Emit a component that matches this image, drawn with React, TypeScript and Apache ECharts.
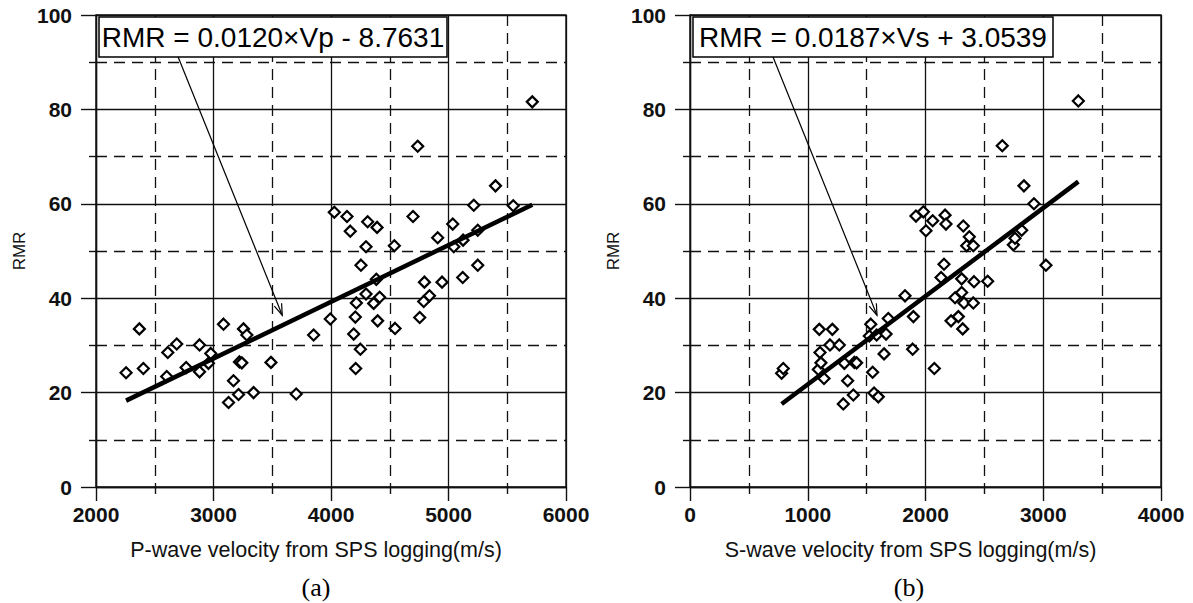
import React, { useEffect, useRef } from "react";
import * as echarts from "echarts";

// ---- data ----
const vpRmr: [number, number][] = [
  [2256, 24.2], [2403, 25.1], [2369, 33.5], [2602, 23.4], [2611, 28.5], [2687, 30.3],
  [2767, 25.3], [2881, 30.1], [2881, 24.4], [2977, 28.3], [2957, 26.2], [3085, 34.5],
  [3128, 17.9], [3170, 22.5], [3213, 19.6], [3221, 26.5], [3241, 26.3], [3255, 33.5],
  [3284, 32.2], [3341, 20.0], [3489, 26.4], [3704, 19.7], [3852, 32.2], [3994, 35.6],
  [4028, 58.2], [4136, 57.3], [4164, 54.2], [4193, 32.4], [4207, 36.0], [4210, 25.1],
  [4216, 39.0], [4250, 29.2], [4255, 47.0], [4298, 50.9], [4298, 40.9], [4312, 56.2],
  [4363, 38.9], [4386, 44.0], [4392, 55.0], [4397, 35.2], [4414, 40.2], [4539, 51.1],
  [4545, 33.6], [4698, 57.3], [4738, 72.2], [4755, 35.9], [4789, 39.3], [4795, 43.4],
  [4838, 40.5], [4908, 52.8], [4945, 43.4], [5036, 55.7], [5045, 50.9], [5121, 44.4],
  [5124, 52.3], [5215, 59.7], [5249, 54.4], [5249, 47.0], [5400, 63.8], [5551, 59.6],
  [5713, 81.6],
];

const vsRmr: [number, number][] = [
  [778, 24.1], [792, 25.1], [1090, 24.9], [1098, 33.4], [1104, 28.5], [1112, 26.3],
  [1138, 23.0], [1189, 30.1], [1209, 33.4], [1268, 30.1], [1302, 17.6], [1311, 26.2],
  [1339, 22.5], [1387, 19.5], [1396, 26.4], [1415, 26.3], [1523, 32.0], [1535, 34.5],
  [1551, 24.3], [1563, 19.9], [1585, 32.2], [1599, 19.1], [1648, 28.2], [1665, 32.4],
  [1684, 35.7], [1826, 40.5], [1891, 29.2], [1897, 36.1], [1919, 57.4], [1982, 58.3],
  [2004, 54.3], [2061, 56.4], [2075, 25.1], [2132, 44.4], [2157, 47.2], [2166, 57.6],
  [2174, 55.7], [2217, 35.2], [2251, 40.1], [2279, 36.1], [2307, 44.1], [2307, 41.2],
  [2316, 33.5], [2321, 55.3], [2327, 39.0], [2350, 51.1], [2372, 53.0], [2406, 51.1],
  [2406, 39.0], [2412, 43.5], [2528, 43.6], [2652, 72.3], [2746, 51.3], [2760, 52.7],
  [2817, 54.4], [2836, 63.8], [2921, 60.0], [3023, 47.0], [3298, 81.8],
];

// regression line end points (RMR = 0.0120×Vp - 8.7631 ; RMR = 0.0187×Vs + 3.0539)
const fitP: [number, number][] = [[2256, 18.3], [5713, 59.8]];
const fitS: [number, number][] = [[778, 17.6], [3298, 64.7]];

const eqP = "RMR = 0.0120×Vp - 8.7631";
const eqS = "RMR = 0.0187×Vs + 3.0539";
const xTitleP = "P-wave velocity from SPS logging(m/s)";
const xTitleS = "S-wave velocity from SPS logging(m/s)";
const yTitle = "RMR";
const panelLabels = ["(a)", "(b)"];

// annotation arrows (data coordinates: start at equation box, end at regression line)
const arrowP: [number, number][] = [[2699, 91.1], [3585, 36.4]];
const arrowS: [number, number][] = [[705, 91.1], [1588, 36.4]];

const xRangeP = [2000, 6000];
const xRangeS = [0, 4000];
const yRange = [0, 100];

const INK = "#111";
const FONT = "'Liberation Sans', Arial, sans-serif";
const DASH = [11, 7];

function makeXAxis(gridIndex: number, range: number[], name: string) {
  return {
    type: "value",
    gridIndex,
    min: range[0],
    max: range[1],
    interval: 1000,
    name,
    nameLocation: "middle",
    nameGap: 52,
    nameTextStyle: { fontFamily: FONT, fontSize: 21.5, color: INK, padding: [0, 30, 0, 0] },
    axisLine: { show: true, onZero: false, lineStyle: { color: INK, width: 1.4 } },
    axisTick: { show: true, length: 14, lineStyle: { color: INK, width: 1.4 } },
    minorTick: { show: true, splitNumber: 2, length: 7, lineStyle: { color: INK, width: 1.4 } },
    axisLabel: {
      fontFamily: FONT, fontWeight: "bold", fontSize: 21, color: INK, margin: 17,
      formatter: (v: number) => String(v),
    },
    splitLine: { show: true, lineStyle: { color: INK, width: 1.3 } },
    minorSplitLine: { show: true, lineStyle: { color: INK, width: 1.3, type: DASH } },
  };
}

function makeYAxis(gridIndex: number) {
  return {
    type: "value",
    gridIndex,
    min: yRange[0],
    max: yRange[1],
    interval: 20,
    name: yTitle,
    nameLocation: "middle",
    nameGap: 68,
    nameTextStyle: { fontFamily: FONT, fontSize: 17, color: INK },
    axisLine: { show: true, onZero: false, lineStyle: { color: INK, width: 1.4 } },
    axisTick: { show: true, length: 15, lineStyle: { color: INK, width: 1.4 } },
    minorTick: { show: true, splitNumber: 2, length: 7, lineStyle: { color: INK, width: 1.4 } },
    axisLabel: {
      fontFamily: FONT, fontWeight: "bold", fontSize: 21, color: INK, margin: 24,
      formatter: (v: number) => String(v),
    },
    splitLine: { show: true, lineStyle: { color: INK, width: 1.3 } },
    minorSplitLine: { show: true, lineStyle: { color: INK, width: 1.3, type: DASH } },
  };
}

function scatter(idx: number, data: [number, number][]) {
  return {
    type: "scatter",
    xAxisIndex: idx,
    yAxisIndex: idx,
    data,
    symbol: "diamond",
    symbolSize: 11,
    itemStyle: { color: "#fff", borderColor: "#000", borderWidth: 2.2, opacity: 1 },
    z: 3,
  };
}

function fitLine(idx: number, data: [number, number][]) {
  return {
    type: "line",
    xAxisIndex: idx,
    yAxisIndex: idx,
    data,
    symbol: "none",
    lineStyle: { color: "#000", width: 4.5 },
    z: 4,
  };
}

export default function App() {
  const ref = useRef<HTMLDivElement>(null);

  useEffect(() => {
    if (!ref.current) return;
    const chart = echarts.init(ref.current, undefined, { renderer: "svg" });
    chart.setOption({
      animation: false,
      backgroundColor: "#fff",
      grid: [
        { left: 96, top: 15, width: 470, height: 472, show: true, borderColor: INK, borderWidth: 1.4 },
        { left: 690, top: 15, width: 471, height: 472, show: true, borderColor: INK, borderWidth: 1.4 },
      ],
      xAxis: [makeXAxis(0, xRangeP, xTitleP), makeXAxis(1, xRangeS, xTitleS)],
      yAxis: [makeYAxis(0), makeYAxis(1)],
      series: [scatter(0, vpRmr), fitLine(0, fitP), scatter(1, vsRmr), fitLine(1, fitS)],
    });

    const arrowGraphic = (idx: number, pts: [number, number][]) => {
      const a = chart.convertToPixel({ xAxisIndex: idx, yAxisIndex: idx }, pts[0]) as number[];
      const b = chart.convertToPixel({ xAxisIndex: idx, yAxisIndex: idx }, pts[1]) as number[];
      const ang = Math.atan2(b[1] - a[1], b[0] - a[0]);
      const L = 12;
      const spread = 0.33;
      const h1 = [b[0] - L * Math.cos(ang - spread), b[1] - L * Math.sin(ang - spread)];
      const h2 = [b[0] - L * Math.cos(ang + spread), b[1] - L * Math.sin(ang + spread)];
      return [
        { type: "line", shape: { x1: a[0], y1: a[1], x2: b[0], y2: b[1] }, style: { stroke: "#000", lineWidth: 1.2 }, z: 20 },
        { type: "polyline", shape: { points: [h1, b, h2] }, style: { stroke: "#000", lineWidth: 1.2, fill: null }, z: 20 },
      ];
    };

    const box = (x: number, w: number, text: string) => ({
      type: "group",
      z: 30,
      children: [
        { type: "rect", shape: { x, y: 17, width: w, height: 40 }, style: { fill: "#fff", stroke: "#000", lineWidth: 1.5 } },
        {
          type: "text",
          x: x + w / 2,
          y: 37,
          style: { text, fontFamily: FONT, fontSize: 28, fill: "#000", align: "center", verticalAlign: "middle" },
        },
      ],
    });

    chart.setOption({
      graphic: [
        ...arrowGraphic(0, arrowP),
        ...arrowGraphic(1, arrowS),
        box(99, 348, eqP),
        box(693, 360, eqS),
        {
          type: "text", x: 316, y: 587, z: 30,
          style: { text: panelLabels[0], fontFamily: "'Liberation Serif', serif", fontSize: 26, fill: "#000", align: "center", verticalAlign: "middle" },
        },
        {
          type: "text", x: 909, y: 587, z: 30,
          style: { text: panelLabels[1], fontFamily: "'Liberation Serif', serif", fontSize: 26, fill: "#000", align: "center", verticalAlign: "middle" },
        },
      ],
    });

    return () => chart.dispose();
  }, []);

  return <div ref={ref} style={{ position: "absolute", left: 0, top: 0, width: 1193, height: 603 }} />;
}
